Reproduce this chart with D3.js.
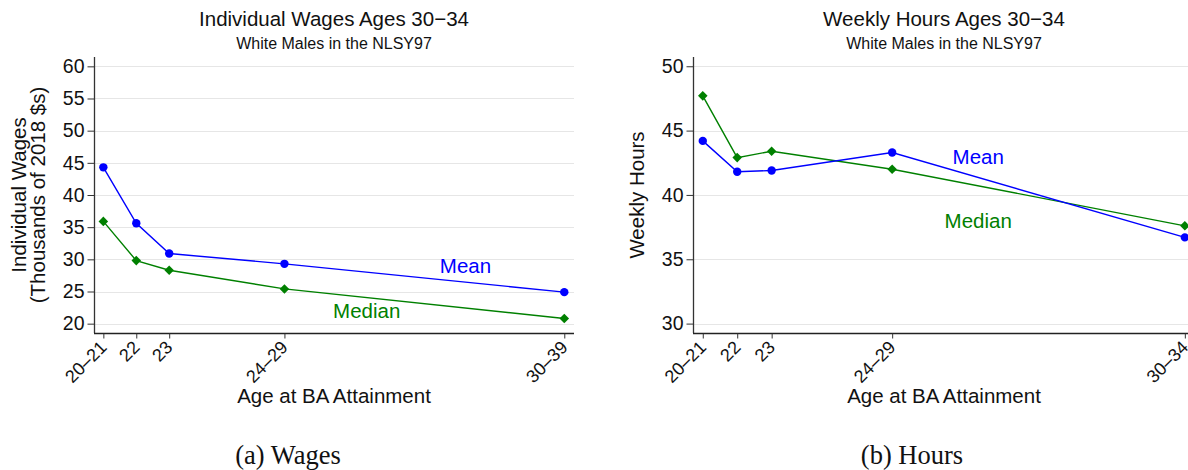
<!DOCTYPE html>
<html>
<head>
<meta charset="utf-8">
<script src="https://cdn.jsdelivr.net/npm/d3@7"></script>
<style>
  html, body { margin: 0; padding: 0; background: #fff; }
  svg { display: block; font-family: "Liberation Sans", Arial, Helvetica, sans-serif; }
</style>
</head>
<body>
<svg id="fig" width="1188" height="470"></svg>
<script>
// Age-at-BA groups, placed on a numeric age axis
const agePositions = [21, 22, 23, 26.5, 35];
const wageGroupLabels = ["20–21", "22", "23", "24–29", "30–39"];
const hoursGroupLabels = ["20–21", "22", "23", "24–29", "30–34"];

// Individual wages, ages 30–34 (thousands of 2018 $)
const wageMean = [44.3, 35.6, 30.9, 29.3, 24.9];
const wageMedian = [35.9, 29.8, 28.3, 25.4, 20.8];
const wageTicks = [20, 25, 30, 35, 40, 45, 50, 55, 60];

// Weekly hours, ages 30–34
const hoursMean = [44.2, 41.8, 41.9, 43.3, 36.7];
const hoursMedian = [47.7, 42.9, 43.4, 42.0, 37.6];
const hoursTicks = [30, 35, 40, 45, 50];

const BLUE = "#0000ff";
const GREEN = "#008000";

const svg = d3.select("#fig");

const panels = [
  {
    title: "Individual Wages Ages 30−34",
    subtitle: "White Males in the NLSY97",
    yTitle: ["Individual Wages", "(Thousands of 2018 $s)"],
    caption: "(a) Wages",
    groups: wageGroupLabels,
    mean: wageMean,
    median: wageMedian,
    ticks: wageTicks,
    yDomain: [18.55, 61.45],
    left: 94, right: 574,
    meanLabel: [32, 29], medianLabel: [29, 22],
    captionX: 288
  },
  {
    title: "Weekly Hours Ages 30−34",
    subtitle: "White Males in the NLSY97",
    yTitle: ["Weekly Hours"],
    caption: "(b) Hours",
    groups: hoursGroupLabels,
    mean: hoursMean,
    median: hoursMedian,
    ticks: hoursTicks,
    yDomain: [29.27, 50.72],
    left: 693, right: 1195,
    meanLabel: [29, 43], medianLabel: [29, 38],
    captionX: 912
  }
];

const plotTop = 57, plotBottom = 333;

panels.forEach(p => {
  const x = d3.scaleLinear().domain([20.716, 35.295]).range([p.left, p.right]);
  const y = d3.scaleLinear().domain(p.yDomain).range([plotBottom, plotTop]);
  const g = svg.append("g");
  const cx = (p.left + p.right) / 2;

  // gridlines
  g.append("g").selectAll("line").data(p.ticks).join("line")
    .attr("x1", p.left).attr("x2", p.right)
    .attr("y1", d => Math.round(y(d)) + 0.5).attr("y2", d => Math.round(y(d)) + 0.5)
    .attr("stroke", "#e6e6e6").attr("stroke-width", 1.2);

  // y axis
  const yAxis = d3.axisLeft(y).tickValues(p.ticks).tickSize(7).tickPadding(3)
    .tickFormat(d3.format("d"));
  const ya = g.append("g").attr("transform", `translate(${p.left + 0.5},0)`).call(yAxis);
  ya.select(".domain").attr("d", `M0,${plotTop}V${plotBottom}`).attr("stroke", "#333").attr("stroke-width", 1.3);
  ya.selectAll(".tick line").attr("stroke", "#333");
  ya.selectAll(".tick text").attr("font-size", 19.5).attr("fill", "#111")
    .attr("font-family", "Liberation Sans, Arial, sans-serif");

  // x axis with rotated group labels
  const xAxis = d3.axisBottom(x).tickValues(agePositions).tickSize(5).tickFormat((d, i) => p.groups[i]);
  const xa = g.append("g").attr("transform", `translate(0,${plotBottom + 0.5})`).call(xAxis);
  xa.select(".domain").attr("d", `M${p.left},0H${p.right}`).attr("stroke", "#222").attr("stroke-width", 1.3);
  xa.selectAll(".tick line").attr("stroke", "#333");
  xa.selectAll(".tick text")
    .attr("font-size", 18).attr("fill", "#111")
    .attr("font-family", "Liberation Sans, Arial, sans-serif")
    .attr("text-anchor", "end").attr("dy", null)
    .attr("transform", "translate(4,15) rotate(-45)")
    .attr("x", 0).attr("y", 0);

  // titles
  g.append("text").attr("x", cx).attr("y", 26).attr("text-anchor", "middle")
    .attr("font-size", 20.5).attr("fill", "#111").text(p.title);
  g.append("text").attr("x", cx).attr("y", 49).attr("text-anchor", "middle")
    .attr("font-size", 16).attr("fill", "#111").text(p.subtitle);

  // y title (one or two lines)
  const ymid = (plotTop + plotBottom) / 2;
  const lines = p.yTitle;
  const yt = g.append("text")
    .attr("transform", `translate(${p.left - 49 - (lines.length - 1) * 19},${ymid}) rotate(-90)`)
    .attr("text-anchor", "middle").attr("font-size", 20.5).attr("fill", "#111");
  lines.forEach((t, i) => {
    yt.append("tspan").attr("x", 0).attr("dy", i === 0 ? 0 : 19).text(t);
  });

  // x title
  g.append("text").attr("x", cx).attr("y", 403).attr("text-anchor", "middle")
    .attr("font-size", 20.5).attr("fill", "#111").text("Age at BA Attainment");

  // series lines
  const line = d3.line().x((d, i) => x(agePositions[i])).y(d => y(d));
  g.append("path").datum(p.median).attr("d", line)
    .attr("fill", "none").attr("stroke", GREEN).attr("stroke-width", 1.4);
  g.append("path").datum(p.mean).attr("d", line)
    .attr("fill", "none").attr("stroke", BLUE).attr("stroke-width", 1.4);

  // markers
  const diamond = d3.symbol().type(d3.symbolDiamond2).size(58);
  g.append("g").selectAll("path").data(p.median).join("path")
    .attr("d", diamond)
    .attr("transform", (d, i) => `translate(${x(agePositions[i])},${y(d)})`)
    .attr("fill", GREEN);
  g.append("g").selectAll("circle").data(p.mean).join("circle")
    .attr("cx", (d, i) => x(agePositions[i])).attr("cy", d => y(d)).attr("r", 4.2)
    .attr("fill", BLUE);

  // series labels
  g.append("text").attr("x", x(p.meanLabel[0])).attr("y", y(p.meanLabel[1]))
    .attr("dy", "0.35em").attr("text-anchor", "middle")
    .attr("font-size", 20.5).attr("fill", BLUE).text("Mean");
  g.append("text").attr("x", x(p.medianLabel[0])).attr("y", y(p.medianLabel[1]))
    .attr("dy", "0.35em").attr("text-anchor", "middle")
    .attr("font-size", 20.5).attr("fill", GREEN).text("Median");

  // subfigure caption
  g.append("text").attr("x", p.captionX).attr("y", 464).attr("text-anchor", "middle")
    .attr("font-family", "Liberation Serif, DejaVu Serif, serif")
    .attr("font-size", 26.5).attr("fill", "#111").text(p.caption);
});
</script>
</body>
</html>
